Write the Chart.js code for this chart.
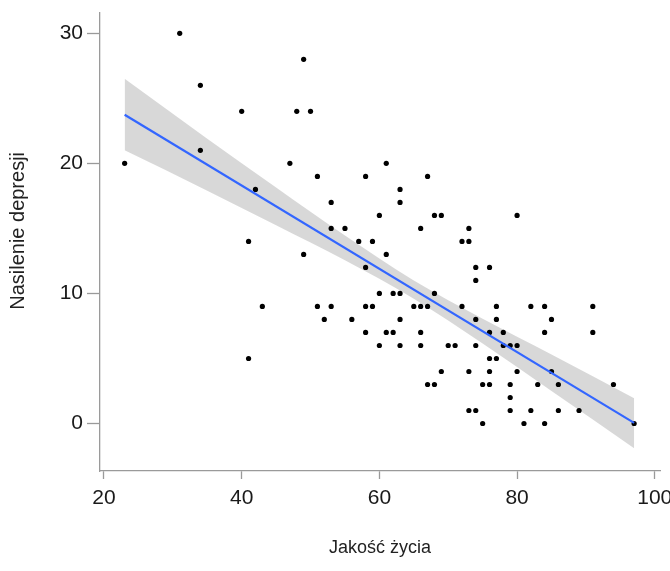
<!DOCTYPE html>
<html>
<head>
<meta charset="utf-8">
<script src="https://cdn.jsdelivr.net/npm/chart.js@4/dist/chart.umd.min.js"></script>
<style>
  html, body { margin: 0; padding: 0; background: #ffffff; }
  #wrap { width: 670px; height: 571px; position: relative; }
</style>
</head>
<body>
<div id="wrap"><canvas id="c" width="670" height="571"></canvas></div>
<script>
// Observed data: quality of life (x) vs depression severity (y)
const qolValues = [23,31,34,34,40,41,41,42,43,47,48,49,49,50,51,51,52,53,53,53,55,56,57,58,58,58,58,59,59,60,60,60,61,61,61,62,62,63,63,63,63,63,65,66,66,66,66,67,67,67,68,68,68,69,69,70,71,72,72,73,73,73,73,74,74,74,74,74,75,75,76,76,76,76,76,77,77,77,78,78,79,79,79,79,80,80,80,81,82,82,83,84,84,84,85,85,86,86,89,91,91,94,97];
const depValues = [20,30,26,21,24,14,5,18,9,20,24,28,13,24,19,9,8,17,15,9,15,8,14,19,12,9,7,14,9,16,10,6,20,13,7,10,7,18,17,10,8,6,9,15,9,7,6,19,9,3,16,10,3,16,4,6,6,14,9,15,14,4,1,12,11,8,6,1,3,0,12,7,5,4,3,9,8,5,7,6,6,3,2,1,16,6,4,0,9,1,3,9,7,0,8,4,3,1,1,9,7,3,0];

// Fitted regression line
const fitX = [23, 97];
const fitY = [23.74, 0.05];

// Confidence band
const bandX = [23, 35, 45, 55, 65, 75, 85, 97];
const bandUpper = [26.5, 21.9, 18.15, 14.45, 11.0, 8.05, 5.3, 1.95];
const bandLower = [21.0, 17.9, 15.25, 12.55, 9.6, 6.15, 2.5, -1.9];

// Tick labels
const xTicks = [20, 40, 60, 80, 100];
const yTicks = [0, 10, 20, 30];

const xTitle = 'Jakość życia';
const yTitle = 'Nasilenie depresji';

const pts = qolValues.map((x, i) => ({ x: x, y: depValues[i] }));
const fitPts = fitX.map((x, i) => ({ x: x, y: fitY[i] }));
const upPts = bandX.map((x, i) => ({ x: x, y: bandUpper[i] }));
const loPts = bandX.map((x, i) => ({ x: x, y: bandLower[i] }));

const FONT = 'Liberation Sans, Arial, sans-serif';
const AXIS = '#9a9a9a';

new Chart(document.getElementById('c'), {
  type: 'scatter',
  data: {
    datasets: [
      {
        type: 'line', label: 'fit', data: fitPts, order: 0,
        borderColor: '#3366FF', borderWidth: 2.2, pointRadius: 0, fill: false, tension: 0
      },
      {
        type: 'scatter', label: 'points', data: pts, order: 1,
        backgroundColor: '#000000', borderColor: '#000000', borderWidth: 0, pointRadius: 2.6
      },
      {
        type: 'line', label: 'upper', data: upPts, order: 2,
        borderWidth: 0, borderColor: 'rgba(0,0,0,0)', pointRadius: 0,
        fill: '+1', backgroundColor: 'rgba(153,153,153,0.38)', tension: 0.4, cubicInterpolationMode: 'monotone'
      },
      {
        type: 'line', label: 'lower', data: loPts, order: 3,
        borderWidth: 0, borderColor: 'rgba(0,0,0,0)', pointRadius: 0,
        fill: false, tension: 0.4, cubicInterpolationMode: 'monotone'
      }
    ]
  },
  options: {
    responsive: false,
    animation: false,
    devicePixelRatio: 1,
    layout: { padding: { top: 13, right: 10, left: 0, bottom: 0 } },
    plugins: { legend: { display: false }, tooltip: { enabled: false } },
    scales: {
      x: {
        type: 'linear', min: 19.42, max: 100.76,
        afterBuildTicks: s => { s.ticks = xTicks.map(v => ({ value: v })); },
        afterFit: s => { s.height = 100; s.paddingLeft = 0; s.paddingRight = 0; },
        grid: { drawOnChartArea: false, drawTicks: true, tickLength: 8, tickColor: AXIS, tickWidth: 1.3 },
        border: { display: true, color: AXIS, width: 1.3 },
        ticks: { color: '#1a1a1a', font: { family: FONT, size: 21 }, padding: 7, maxRotation: 0, autoSkip: false },
        title: { display: true, text: xTitle, color: '#222', font: { family: FONT, size: 18 }, padding: { top: 12, bottom: 12 } }
      },
      y: {
        type: 'linear', min: -3.65, max: 31.56,
        afterBuildTicks: s => { s.ticks = yTicks.map(v => ({ value: v })); },
        afterFit: s => { s.width = 100; s.paddingTop = 0; s.paddingBottom = 0; },
        grid: { drawOnChartArea: false, drawTicks: true, tickLength: 13, tickColor: AXIS, tickWidth: 1.3 },
        border: { display: true, color: AXIS, width: 1.3 },
        ticks: { color: '#1a1a1a', font: { family: FONT, size: 21 }, padding: 4, autoSkip: false },
        title: { display: true, text: '    ' + yTitle, color: '#222', font: { family: FONT, size: 20 }, padding: { top: 6, bottom: 6 } }
      }
    }
  }
});
</script>
</body>
</html>
